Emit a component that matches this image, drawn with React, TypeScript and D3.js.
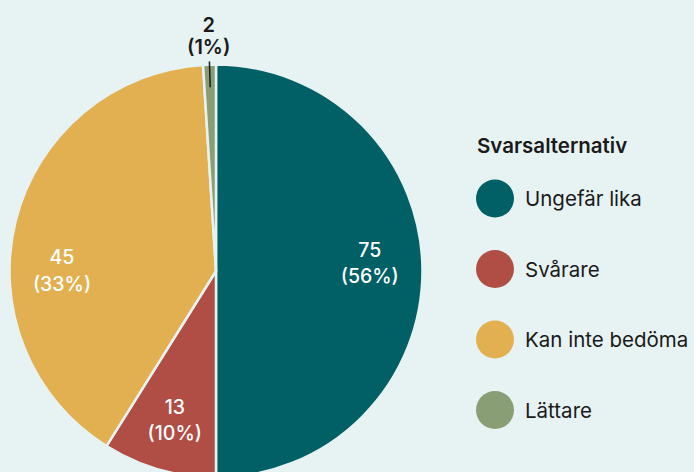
import React, { useEffect } from "react";
import * as d3 from "d3";

// ---- data ----
const categories = ["Ungefär lika", "Svårare", "Kan inte bedöma", "Lättare"];
const counts = [75, 13, 45, 2];
const percents = [56, 10, 33, 1];
// share of the circle each slice occupies in the reference drawing (percent)
const arcShares = [50, 8.9, 40.1, 1.0];
const legendTitle = "Svarsalternativ";

// ---- styles ----
const W = 694;
const H = 472;
const BG = "#e7f3f3";
const COLORS = ["#006066", "#b04e46", "#e3b051", "#8a9e76"];
const FONT = "Inter, 'Noto Sans', sans-serif";
const CX = 216;
const CY = 271;
const R = 206.5;
const LABEL_R = 154;
const LABEL_ANGLE_SHIFT = [-3.3, -0.5, -13.8, 0]; // degrees
const INSIDE = [true, true, true, false];

export default function App() {
  useEffect(() => {
    document.body.style.margin = "0";
    document.body.style.background = BG;
  }, []);

  const pie = d3
    .pie<number>()
    .sort(null)
    .value((d) => d);
  const arcs = pie(arcShares);
  const arcGen = d3
    .arc<d3.PieArcDatum<number>>()
    .innerRadius(0)
    .outerRadius(R);

  const polar = (angle: number, r: number): [number, number] => [
    CX + r * Math.sin(angle),
    CY - r * Math.cos(angle),
  ];

  const legendY = d3
    .scalePoint<string>()
    .domain(categories)
    .range([198.5, 410]);

  return (
    <svg width={W} height={H} style={{ display: "block", background: BG }}>
      <rect x={0} y={0} width={W} height={H} fill={BG} />
      <g>
        {arcs.map((a, i) => (
          <path
            key={i}
            d={arcGen(a) || ""}
            transform={`translate(${CX},${CY})`}
            fill={COLORS[i]}
            stroke={BG}
            strokeWidth={2.5}
            strokeLinejoin="round"
          />
        ))}
      </g>
      <g fontFamily={FONT} fontSize={19.5} textAnchor="middle">
        {arcs.map((a, i) => {
          const mid = (a.startAngle + a.endAngle) / 2;
          if (INSIDE[i]) {
            const ang = mid + (LABEL_ANGLE_SHIFT[i] * Math.PI) / 180;
            const [x, y] = polar(ang, LABEL_R);
            return (
              <text key={i} fill="#ffffff" fontWeight={500}>
                <tspan x={x} y={y - 5.5}>
                  {counts[i]}
                </tspan>
                <tspan x={x} y={y + 21}>
                  {`(${percents[i]}%)`}
                </tspan>
              </text>
            );
          }
          const [x1, y1] = polar(mid, R * 0.89);
          const [x2, y2] = polar(mid, R * 1.015);
          const [tx, ty] = polar(mid, R * 1.125);
          return (
            <g key={i}>
              <line
                x1={x1}
                y1={y1}
                x2={x2}
                y2={y2}
                stroke="#1a1a1a"
                strokeWidth={1.5}
              />
              <text fill="#1a1a1a" fontWeight={600} fontSize={20}>
                <tspan x={tx} y={ty - 7}>
                  {counts[i]}
                </tspan>
                <tspan x={tx} y={ty + 15}>
                  {`(${percents[i]}%)`}
                </tspan>
              </text>
            </g>
          );
        })}
      </g>
      <g fontFamily={FONT}>
        <text x={477} y={153} fontSize={20.5} fontWeight={600} fill="#1a1a1a">
          {legendTitle}
        </text>
        {categories.map((c, i) => {
          const y = legendY(c) as number;
          return (
            <g key={c}>
              <circle cx={495} cy={y} r={19} fill={COLORS[i]} />
              <text x={525} y={y + 7.5} fontSize={20.5} fill="#1a1a1a">
                {c}
              </text>
            </g>
          );
        })}
      </g>
    </svg>
  );
}
